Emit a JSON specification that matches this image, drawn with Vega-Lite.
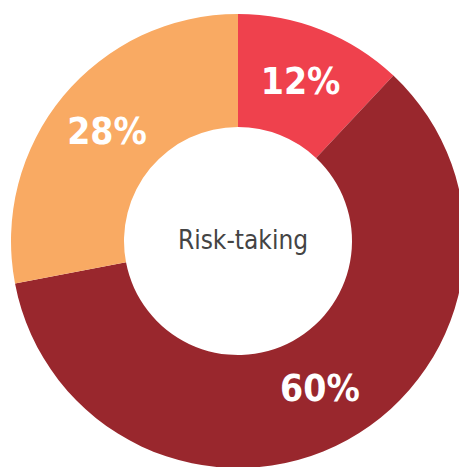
{
  "$schema": "https://vega.github.io/schema/vega-lite/v6.json",
  "autosize": "none",
  "width": 442,
  "height": 452,
  "padding": {"left": 17, "top": 15, "right": 0, "bottom": 0},
  "background": "white",
  "config": {"view": {"stroke": null}},
  "data": {"values": [
    {"cat": "A", "value": 12, "label": "12%", "ord": 1},
    {"cat": "B", "value": 60, "label": "60%", "ord": 2},
    {"cat": "C", "value": 28, "label": "28%", "ord": 3}
  ]},
  "encoding": {
    "theta": {"field": "value", "type": "quantitative", "stack": true},
    "order": {"field": "ord", "type": "quantitative"}
  },
  "layer": [
    {
      "mark": {"type": "arc", "outerRadius": 227, "innerRadius": 114},
      "encoding": {
        "color": {"field": "cat", "type": "nominal", "legend": null,
          "scale": {"domain": ["A", "B", "C"], "range": ["#EF414D", "#99272D", "#F9AA63"]}}
      }
    },
    {
      "mark": {"type": "text", "radius": 170, "font": "DejaVu Sans Condensed", "fontWeight": "bold", "fontSize": 37, "color": "white", "baseline": "middle", "align": "center"},
      "encoding": {"text": {"field": "label"}}
    },
    {
      "data": {"values": [{"t": "Risk-taking"}]},
      "mark": {"type": "text", "font": "DejaVu Sans Condensed", "fontSize": 26, "color": "#444444", "baseline": "middle", "align": "center", "dx": 5},
      "encoding": {"text": {"field": "t"}, "theta": null, "order": null}
    }
  ]
}
